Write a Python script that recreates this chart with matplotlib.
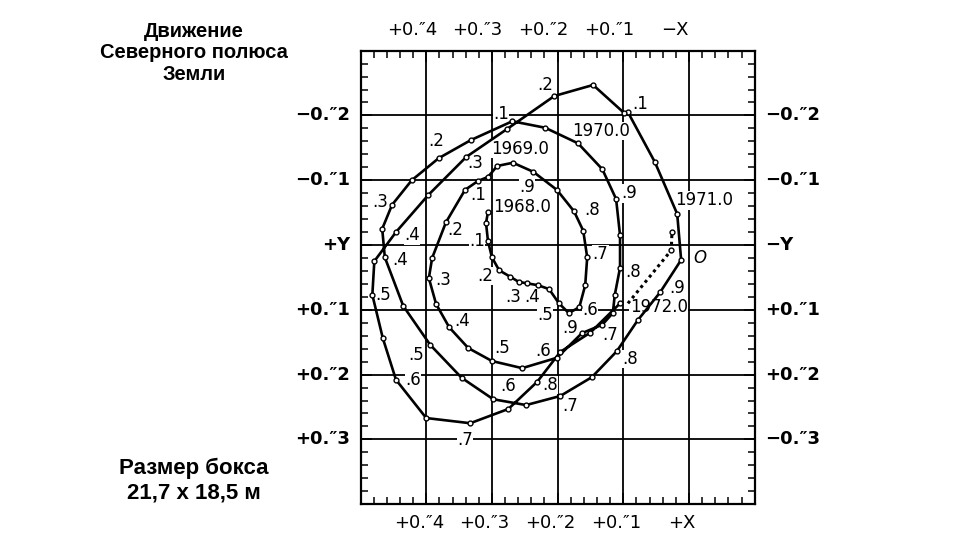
import matplotlib.pyplot as plt
import numpy as np
from matplotlib import font_manager

# pole path, chronological (arcsec): a = horizontal scale, b = vertical scale
path_a = [0.306, 0.309, 0.306, 0.300, 0.289, 0.272, 0.259, 0.247, 0.230, 0.213,
          0.198, 0.183, 0.167, 0.158, 0.155, 0.161, 0.175, 0.201, 0.237, 0.268,
          0.292, 0.306, 0.321, 0.341, 0.370, 0.391, 0.396, 0.385, 0.365, 0.336,
          0.300, 0.254, 0.201, 0.163, 0.132, 0.116, 0.113, 0.105, 0.105, 0.111,
          0.132, 0.169, 0.219, 0.269, 0.332, 0.381, 0.422, 0.452, 0.467, 0.463,
          0.435, 0.394, 0.346, 0.298, 0.248, 0.196, 0.148, 0.110, 0.078, 0.044,
          0.012, 0.018, 0.052, 0.093, 0.099, 0.146, 0.205, 0.277, 0.339, 0.397,
          0.446, 0.479, 0.482, 0.466, 0.446, 0.400, 0.333, 0.275, 0.231, 0.196,
          0.150, 0.105]
path_b = [-0.051, -0.034, -0.006, 0.019, 0.039, 0.049, 0.057, 0.059, 0.062, 0.068,
          0.090, 0.105, 0.096, 0.062, 0.019, -0.022, -0.052, -0.085, -0.113, -0.127,
          -0.122, -0.105, -0.099, -0.085, -0.035, 0.020, 0.051, 0.091, 0.127, 0.159,
          0.179, 0.190, 0.174, 0.136, 0.123, 0.105, 0.077, 0.035, -0.015, -0.071,
          -0.117, -0.157, -0.181, -0.191, -0.162, -0.134, -0.100, -0.062, -0.025, 0.019,
          0.094, 0.154, 0.205, 0.238, 0.247, 0.233, 0.204, 0.164, 0.116, 0.073,
          0.023, -0.048, -0.128, -0.205, -0.204, -0.247, -0.230, -0.179, -0.136, -0.077,
          -0.020, 0.025, 0.077, 0.144, 0.208, 0.267, 0.275, 0.253, 0.211, 0.165,
          0.135, 0.090]

# dotted extrapolation
dot_a = [0.093, 0.027, 0.026]
dot_b = [0.090, 0.008, -0.020]

# epoch labels
lab_text = ['1968.0', '.1', '.2', '.3', '.4', '.5', '.6', '.7', '.8', '.9',
            '1969.0', '.1', '.2', '.3', '.4', '.5', '.6', '.7', '.8', '.9',
            '1970.0', '.1', '.2', '.3', '.4', '.5', '.6', '.7', '.8', '.9',
            '1971.0', '.1', '.2', '.3', '.4', '.5', '.6', '.7', '.8', '.9',
            '1972.0']
lab_a = [0.254, 0.323, 0.311, 0.268, 0.239, 0.219, 0.151, 0.135, 0.148, 0.247,
         0.257, 0.321, 0.356, 0.374, 0.346, 0.285, 0.222, 0.120, 0.085, 0.091,
         0.134, 0.286, 0.385, 0.470, 0.440, 0.416, 0.275, 0.181, 0.090, 0.018,
         -0.023, 0.075, 0.219, 0.326, 0.422, 0.466, 0.420, 0.341, 0.212, 0.181,
         0.046]
lab_b = [-0.059, -0.006, 0.048, 0.080, 0.080, 0.108, 0.100, 0.014, -0.054, -0.090,
         -0.148, -0.077, -0.023, 0.054, 0.117, 0.159, 0.164, 0.139, 0.042, -0.080,
         -0.176, -0.202, -0.160, -0.066, 0.023, 0.170, 0.218, 0.248, 0.176, 0.066,
         -0.069, -0.218, -0.247, -0.127, -0.015, 0.077, 0.208, 0.301, 0.216, 0.128,
         0.096]

col_vals = [0.4, 0.3, 0.2, 0.1, 0.0]
row_vals = [-0.2, -0.1, 0.0, 0.1, 0.2, 0.3]
top_labels = ['+0.″4', '+0.″3', '+0.″2', '+0.″1', '−X']
bottom_labels = ['+0.″4', '+0.″3', '+0.″2', '+0.″1', '+X']
left_labels = ['−0.″2', '−0.″1', '+Y', '+0.″1', '+0.″2', '+0.″3']
right_labels = ['−0.″2', '−0.″1', '−Y', '+0.″1', '+0.″2', '−0.″3']

try:
    font_manager.findfont('Liberation Sans Narrow', fallback_to_default=False)
    narrow = ['Liberation Sans Narrow', 'DejaVu Sans']
    fs_lab, fs_ax = 15, 15.5
except ValueError:
    narrow = ['DejaVu Sans']
    fs_lab, fs_ax = 12, 13

fig = plt.figure(figsize=(9.65, 5.48), dpi=100)
ax = fig.add_axes([0.3736, 0.0799, 0.4085, 0.8277])
ax.set_xlim(0.5, -0.1)
ax.set_ylim(0.4, -0.3)

for v in col_vals:
    ax.axvline(v, color='black', lw=1.3, zorder=1)
for v in row_vals:
    ax.axhline(v, color='black', lw=1.3, zorder=1)

ax.set_xticks(np.arange(-0.1, 0.51, 0.1))
ax.set_xticks(np.arange(-0.1, 0.51, 0.02), minor=True)
ax.set_yticks(np.arange(-0.3, 0.41, 0.1))
ax.set_yticks(np.arange(-0.3, 0.41, 0.02), minor=True)
ax.tick_params(which='both', direction='in', top=True, right=True,
               labelbottom=False, labelleft=False, color='black', width=1.1)
ax.tick_params(which='major', length=8)
ax.tick_params(which='minor', length=5)
for s in ax.spines.values():
    s.set_linewidth(1.6)

ax.plot(path_a, path_b, color='black', lw=1.9, zorder=4,
        marker='o', ms=3.5, mfc='white', mec='black', mew=1.0)
ax.plot(dot_a, dot_b, color='black', lw=2.2, ls=(0, (1, 1.2)), zorder=4)
ax.plot(dot_a[1:], dot_b[1:], ls='none', marker='o', ms=3.5, mfc='white',
        mec='black', mew=1.0, zorder=5)

for t, a, b in zip(lab_text, lab_a, lab_b):
    ax.text(a, b, t, ha='center', va='center', fontsize=fs_lab, family=narrow,
            zorder=3, bbox=dict(fc='white', ec='none', pad=0.3))
ax.text(-0.017, 0.020, 'O', ha='center', va='center', fontsize=fs_lab,
        style='italic', family=narrow)

for v, t in zip(col_vals, top_labels):
    ax.text(v + 0.022, -0.332, t, ha='center', va='center', fontsize=fs_ax,
            family=narrow, clip_on=False)
for v, t in zip(col_vals, bottom_labels):
    ax.text(v + 0.011, 0.429, t, ha='center', va='center', fontsize=fs_ax,
            family=narrow, clip_on=False)
for v, t in zip(row_vals, left_labels):
    ax.text(0.516, v, t, ha='right', va='center', fontsize=fs_ax,
            family=narrow, fontweight='bold', clip_on=False)
for v, t in zip(row_vals, right_labels):
    ax.text(-0.116, v, t, ha='left', va='center', fontsize=fs_ax,
            family=narrow, fontweight='bold', clip_on=False)

fig.text(194 / 965, 1 - 53 / 548, 'Движение\nСеверного полюса\nЗемли',
         ha='center', va='center', fontsize=14.5, fontweight='bold',
         family='Liberation Sans', linespacing=1.17)
fig.text(194 / 965, 1 - 468 / 548, 'Размер бокса', ha='center', va='center',
         fontsize=16, fontweight='bold', family='Liberation Sans')
fig.text(194 / 965, 1 - 493 / 548, '21,7 х 18,5 м', ha='center', va='center',
         fontsize=16, fontweight='bold', family='Liberation Sans')

fig.savefig('out.png', dpi=100)
